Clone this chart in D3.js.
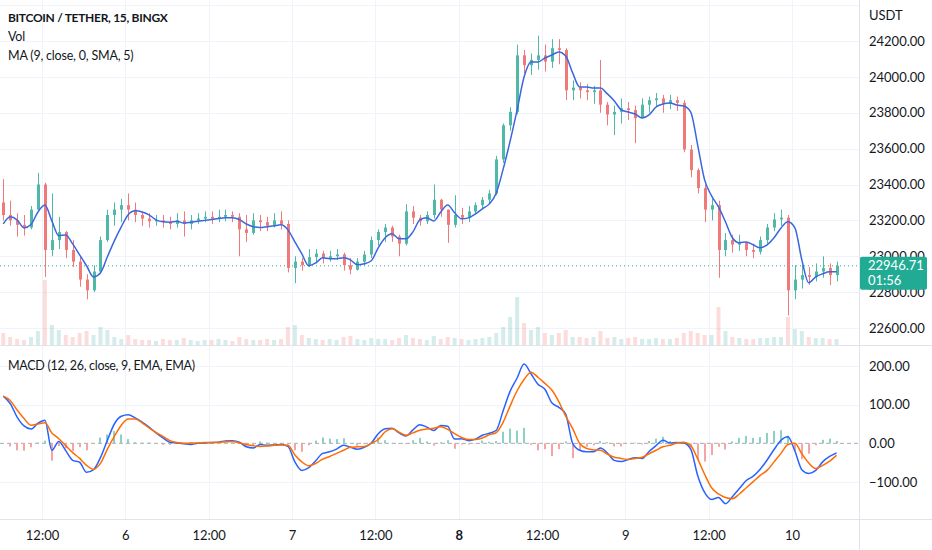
<!DOCTYPE html>
<html><head><meta charset="utf-8">
<script src="https://cdn.jsdelivr.net/npm/d3@7"></script>
<style>
body{margin:0;background:#fff;}
svg{display:block;font-family:Lato,"Open Sans",sans-serif;}
</style>
</head><body>
<svg id="c" width="932" height="550"></svg>
<script>
// ---------- DATA (hourly aggregation) ----------
const START = new Date(2022, 7, 5, 6, 0);
const FIRST_OPEN = 23300;
const CLOSE = [23230,23200,23175,23160,23260,23400,23035,23090,23135,23035,
22970,22870,22810,22915,23090,23230,23260,23285,23260,23230,
23210,23195,23200,23190,23180,23200,23180,23200,23210,23220,
23210,23220,23230,23220,23150,23130,23200,23190,23170,23200,
23180,22935,22970,22950,22995,23015,22990,23000,23010,22950,
22925,22970,23010,23090,23135,23160,23110,23070,23250,23215,
23195,23230,23315,23260,23175,23230,23215,23250,23285,23315,
23350,23540,23730,23805,24120,24065,24095,24120,24085,24160,
24150,23925,23940,23925,23915,23925,23845,23790,23805,23825,
23815,23770,23845,23870,23880,23850,23870,23855,23595,23480,
23380,23260,23285,23035,23090,23065,23075,23035,23025,23090,
23160,23205,23215,22810,22870,22895,22885,22915,22935,22895,
22946.71];
const HIGH = [23430,23310,23240,23230,23280,23465,23410,23350,23220,23140,
23090,23000,22900,22950,23110,23260,23300,23320,23350,23300,
23250,23240,23230,23230,23220,23240,23250,23230,23240,23250,
23250,23260,23260,23250,23240,23230,23240,23230,23220,23240,
23250,23200,23000,22990,23040,23040,23030,23030,23040,23020,
22990,22990,23030,23110,23150,23180,23170,23120,23290,23280,
23230,23250,23400,23320,23260,23340,23270,23280,23300,23330,
23370,23560,23740,23830,24180,24150,24130,24230,24180,24210,
24210,24160,23980,23970,23960,23950,24094,23860,23840,23880,
23860,23840,23880,23890,23910,23900,23900,23890,23870,23620,
23490,23400,23320,23310,23130,23120,23120,23080,23070,23110,
23180,23240,23260,23230,22950,22950,22940,22960,23000,22960,
22970];
const LOW = [23200,23170,23110,23115,23150,23250,22885,23000,23040,22990,
22940,22830,22760,22800,22900,23080,23170,23190,23200,23190,
23170,23160,23170,23160,23150,23160,23110,23150,23180,23190,
23180,23190,23195,23190,23000,23080,23120,23140,23140,23160,
23150,22910,22850,22920,22940,22960,22960,22970,22980,22920,
22900,22920,22950,22990,23060,23080,23080,23000,23060,23180,
23170,23180,23210,23220,23075,23160,23180,23190,23230,23260,
23290,23340,23520,23700,23790,24020,24010,24040,24030,24050,
24070,23870,23870,23880,23870,23850,23800,23730,23675,23740,
23760,23630,23770,23800,23830,23800,23820,23810,23580,23440,
23350,23190,23200,22880,23000,23020,23030,23000,22990,23010,
23070,23140,23170,22670,22760,22820,22840,22860,22880,22840,
22860];
const VOLUME = [12,8,6,5,8,14,65,20,15,10,
8,12,14,10,18,15,8,6,10,6,
5,5,4,6,5,5,7,5,4,5,
5,6,5,4,8,6,5,5,6,5,
6,18,20,10,7,6,5,6,5,8,
9,6,5,7,6,6,5,7,10,7,
6,5,9,6,8,7,6,5,6,7,
8,12,18,28,48,22,15,18,12,10,
12,15,8,8,7,8,14,7,8,6,
7,8,6,6,7,6,6,7,12,14,
12,10,10,38,14,8,7,6,6,7,
7,8,8,28,16,14,8,7,7,6,
6];
const MA9 = [23180,23220,23203,23158,23177,23247,23286,23197,23114,23119,
23069,23008,22947,22885,22908,22997,23086,23164,23231,23253,
23247,23231,23203,23192,23190,23195,23185,23190,23195,23200,
23205,23210,23215,23215,23205,23180,23165,23160,23165,23170,
23175,23147,23080,23013,22947,22963,22991,22986,22986,22991,
22980,22952,22958,22975,23047,23103,23125,23097,23097,23136,
23203,23214,23197,23247,23286,23242,23209,23214,23236,23264,
23292,23353,23487,23643,23816,23999,24083,24083,24105,24122,
24139,24116,24022,23944,23944,23938,23938,23905,23866,23816,
23804,23793,23771,23788,23832,23849,23855,23843,23838,23804,
23620,23426,23337,23275,23192,23103,23075,23080,23064,23047,
23064,23103,23158,23192,23158,22980,22852,22885,22902,22913,
22913];
const MACD = [122,103,68,45,37,52,60,-18,5,-19,
-44,-49,-75,-68,-37,8,50,70,74,66,
55,42,27,14,3,1,-1,-3,0,1,
2,3,6,7,3,-9,-12,-3,-5,-4,
-3,-8,-48,-70,-63,-45,-26,-22,-15,-5,
-10,-15,-10,1,25,38,39,27,19,35,
48,42,33,46,44,11,12,7,11,21,
26,34,85,135,169,205,180,153,140,105,
93,75,0,-18,-22,-22,-12,-25,-44,-47,
-42,-37,-39,-21,-6,8,1,2,1,-15,
-83,-127,-145,-140,-156,-138,-117,-96,-85,-67,
-43,-16,8,17,-20,-68,-78,-70,-48,-34,
-25];
const SIGNAL = [122,111,86,64,47,50,53,27,12,-6,
-24,-39,-57,-67,-52,-15,18,47,63,63,
53,40,28,18,7,2,0,1,1,2,
2,3,4,5,1,-3,-6,-8,-7,-5,
-4,-5,-30,-48,-58,-52,-41,-34,-26,-18,
-10,-9,-8,0,10,30,38,29,21,27,
34,37,39,43,36,25,15,10,10,14,
22,28,55,97,136,165,184,171,155,138,
108,70,38,0,-13,-17,-18,-28,-36,-39,
-42,-39,-36,-27,-18,-9,-5,1,3,-6,
-40,-80,-115,-131,-140,-143,-131,-115,-99,-83,
-70,-48,-26,-3,0,-27,-51,-65,-57,-46,
-31];
const PRICE_TICKS = [22600,22800,23000,23200,23400,23600,23800,24000,24200];
const PRICE_GRID = [22600,22800,23000,23200,23400,23600,23800,24000,24200,24400];
const MACD_TICKS = [200,100,0,-100];
const LAST_PRICE = 22946.71;
const COUNTDOWN = "01:56";
const TITLE = "BITCOIN / TETHER, 15, BINGX";
const LEGEND = ["Vol", "MA (9, close, 0, SMA, 5)"];
const MACD_TITLE = "MACD (12, 26, close, 9, EMA, EMA)";
const AXIS_UNIT = "USDT";

// ---------- LAYOUT ----------
const W = 932, H = 550, PR = 859, MAIN_B = 345, MACD_B = 519;
const FONT = 'Lato,"Open Sans",sans-serif';
const svg = d3.select("#c");
const C_TEXT = "#131722", C_GRID = "#f0f3fa", C_SEP = "#e0e3eb";
const C_UP = "#4fb8a8", C_DN = "#f07a7a";

const x = d3.scaleTime()
  .domain([new Date(2022,7,5,12), new Date(2022,7,10,0)])
  .range([42, 792]);
const y = d3.scaleLinear().domain([22600, 24200]).range([328, 41]);
const yv = d3.scaleLinear().domain([0, 100]).range([MAIN_B, MAIN_B - 100]);
const ym = d3.scaleLinear().domain([-100, 200]).range([482, 366]);

const times = CLOSE.map((_, i) => d3.timeHour.offset(START, i));
const cx = i => x(d3.timeMinute.offset(times[i], 25));
const OPEN = CLOSE.map((c, i) => i === 0 ? FIRST_OPEN : CLOSE[i-1]);

const defs = svg.append("defs");
defs.append("clipPath").attr("id","clipMain").append("rect")
  .attr("x",0).attr("y",0).attr("width",PR).attr("height",MAIN_B);
defs.append("clipPath").attr("id","clipMacd").append("rect")
  .attr("x",0).attr("y",MAIN_B+1).attr("width",PR).attr("height",MACD_B-MAIN_B-1);

// grid
const timeTicks = d3.timeHour.every(12).range(new Date(2022,7,5,0), new Date(2022,7,10,6));
const grid = svg.append("g");
grid.selectAll(".vg").data(timeTicks).join("line")
  .attr("x1", d => Math.round(x(d)) + 0.5).attr("x2", d => Math.round(x(d)) + 0.5)
  .attr("y1", 0).attr("y2", MACD_B).attr("stroke", C_GRID);
grid.selectAll(".hg").data(PRICE_GRID).join("line")
  .attr("x1", 0).attr("x2", PR)
  .attr("y1", d => Math.round(y(d)) + 0.5).attr("y2", d => Math.round(y(d)) + 0.5)
  .attr("stroke", C_GRID);
grid.selectAll(".mg").data(MACD_TICKS.filter(d => d !== 0)).join("line")
  .attr("x1", 0).attr("x2", PR)
  .attr("y1", d => Math.round(ym(d)) + 0.5).attr("y2", d => Math.round(ym(d)) + 0.5)
  .attr("stroke", C_GRID);

// main pane
const main = svg.append("g").attr("clip-path", "url(#clipMain)");
main.selectAll(".vol").data(VOLUME).join("rect")
  .attr("x", (d, i) => cx(i) - 2).attr("width", 4)
  .attr("y", d => yv(d)).attr("height", d => MAIN_B - yv(d))
  .attr("fill", (d, i) => CLOSE[i] >= OPEN[i] ? "#26a69a" : "#ef5350")
  .attr("opacity", 0.2);
main.append("line").attr("x1", 0).attr("x2", PR)
  .attr("y1", y(LAST_PRICE)).attr("y2", y(LAST_PRICE))
  .attr("stroke", "#22ab94").attr("stroke-width", 1).attr("stroke-dasharray", "1 3");
const cg = main.selectAll(".candle").data(CLOSE).join("g");
cg.append("line")
  .attr("x1", (d, i) => Math.round(cx(i)) + 0.5).attr("x2", (d, i) => Math.round(cx(i)) + 0.5)
  .attr("y1", (d, i) => y(HIGH[i])).attr("y2", (d, i) => y(LOW[i]))
  .attr("stroke", (d, i) => d >= OPEN[i] ? C_UP : C_DN);
cg.append("rect")
  .attr("x", (d, i) => Math.round(cx(i)) - 1).attr("width", 3)
  .attr("y", (d, i) => y(Math.max(d, OPEN[i])))
  .attr("height", (d, i) => Math.max(1, Math.abs(y(d) - y(OPEN[i]))))
  .attr("fill", (d, i) => d >= OPEN[i] ? C_UP : C_DN);
main.append("path").datum(MA9)
  .attr("d", d3.line().x((d, i) => cx(i)).y(d => y(d)).curve(d3.curveMonotoneX))
  .attr("fill", "none").attr("stroke", "#3a67e0").attr("stroke-width", 1.5);

// MACD pane
const mp = svg.append("g").attr("clip-path", "url(#clipMacd)");
mp.append("line").attr("x1", 0).attr("x2", PR)
  .attr("y1", ym(0)).attr("y2", ym(0))
  .attr("stroke", "#9598a1").attr("stroke-dasharray", "4 3").attr("opacity", 0.8);
mp.selectAll(".hist").data(MACD).join("rect")
  .attr("x", (d, i) => Math.round(cx(i)) - 1).attr("width", 2)
  .attr("y", (d, i) => Math.min(ym(0), ym(d - SIGNAL[i])))
  .attr("height", (d, i) => Math.abs(ym(d - SIGNAL[i]) - ym(0)))
  .attr("fill", (d, i) => d - SIGNAL[i] >= 0 ? "#8fd0c5" : "#f6a5a5");
mp.append("path").datum(MACD)
  .attr("d", d3.line().x((d, i) => cx(i)).y(d => ym(d)).curve(d3.curveMonotoneX))
  .attr("fill", "none").attr("stroke", "#2962ff").attr("stroke-width", 1.5);
mp.append("path").datum(SIGNAL)
  .attr("d", d3.line().x((d, i) => cx(i)).y(d => ym(d)).curve(d3.curveMonotoneX))
  .attr("fill", "none").attr("stroke", "#ff6d00").attr("stroke-width", 1.5);

// separators
svg.append("line").attr("x1", 0).attr("x2", W).attr("y1", MAIN_B + 0.5).attr("y2", MAIN_B + 0.5).attr("stroke", C_SEP);
svg.append("line").attr("x1", 0).attr("x2", W).attr("y1", MACD_B + 0.5).attr("y2", MACD_B + 0.5).attr("stroke", C_SEP);
svg.append("line").attr("x1", PR + 0.5).attr("x2", PR + 0.5).attr("y1", 0).attr("y2", H).attr("stroke", C_SEP);

// axes
function styleAxis(g) {
  g.select(".domain").remove();
  g.selectAll(".tick line").remove();
  g.selectAll("text").attr("fill", C_TEXT).attr("font-size", 13).attr("font-family", FONT);
}
svg.append("g").attr("transform", `translate(${PR},0)`)
  .call(d3.axisRight(y).tickValues(PRICE_TICKS).tickFormat(d3.format(".2f")).tickSize(0).tickPadding(10))
  .call(styleAxis);
svg.append("g").attr("transform", `translate(${PR},0)`)
  .call(d3.axisRight(ym).tickValues(MACD_TICKS).tickFormat(d3.format(".2f")).tickSize(0).tickPadding(10))
  .call(styleAxis);
svg.append("text").attr("x", PR + 10).attr("y", 19.5).text(AXIS_UNIT)
  .attr("fill", C_TEXT).attr("font-size", 13);

const fmtTime = d => d.getHours() === 0 ? String(d.getDate()) : d3.timeFormat("%H:%M")(d);
const tAxis = svg.append("g").attr("transform", `translate(0,${MACD_B})`)
  .call(d3.axisBottom(x).tickValues(timeTicks.filter(d => x(d) > 10 && x(d) < PR - 10))
    .tickFormat(fmtTime).tickSize(0).tickPadding(12))
  .call(styleAxis);
tAxis.selectAll("text").attr("font-weight", d => (d.getHours() === 0 && d.getDay() === 1) ? "bold" : "normal");

// last price label
const yp = y(LAST_PRICE);
svg.append("rect").attr("x", PR + 1).attr("y", yp - 9).attr("width", 67).attr("height", 33)
  .attr("rx", 2).attr("fill", "#22ab94");
svg.append("text").attr("x", PR + 9).attr("y", yp + 4.5).text(d3.format(".2f")(LAST_PRICE))
  .attr("fill", "#fff").attr("font-size", 13);
svg.append("text").attr("x", PR + 9).attr("y", yp + 19.5).text(COUNTDOWN)
  .attr("fill", "#fff").attr("font-size", 13);

// legends
svg.append("text").attr("x", 8).attr("y", 22).text(TITLE)
  .attr("fill", C_TEXT).attr("font-size", 12).attr("font-weight", "bold").attr("letter-spacing", -0.3);
LEGEND.forEach((t, k) => svg.append("text").attr("x", 8).attr("y", 41 + k * 19).text(t)
  .attr("fill", C_TEXT).attr("font-size", 12.5).attr("letter-spacing", -0.2));
svg.append("text").attr("x", 8).attr("y", 369.5).text(MACD_TITLE)
  .attr("fill", C_TEXT).attr("font-size", 12.5).attr("letter-spacing", -0.3);
</script>
</body></html>
